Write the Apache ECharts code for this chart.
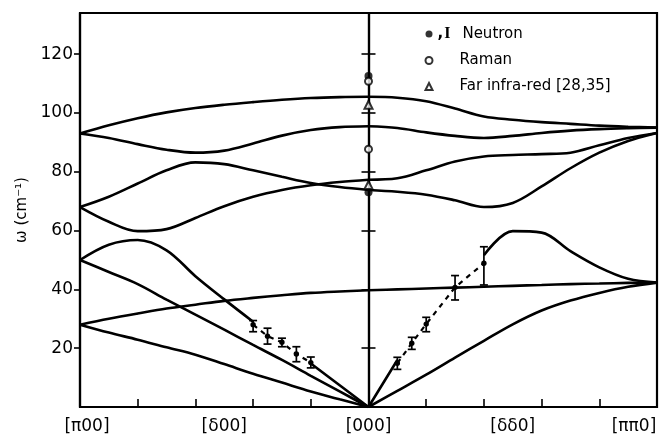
<!DOCTYPE html>
<html><head><meta charset="utf-8">
<script src="https://cdn.jsdelivr.net/npm/echarts@6/dist/echarts.min.js"></script>
<style>html,body{margin:0;padding:0;background:#fff}#c{width:669px;height:438px}</style>
</head><body><div id="c"></div>
<script>
// x coordinate: -5 = [π00], 0 = [000], 5 = [ππ0]
const xLeft  = [-5, -4.5, -4, -3.5, -3, -2.5, -2, -1.5, -1, -0.5, 0];
const xRight = [0, 0.5, 1, 1.5, 2, 2.5, 3, 3.5, 4, 4.5, 5];

const xLabelPos = [-5, -2.5, 0, 2.5, 5];
const xLabels = ['[π00]', '[δ00]', '[000]', '[δδ0]', '[ππ0]'];
const xMinorTicks = [-4, -3, -2, -1, 1, 2, 3, 4];
const yTicks = [20, 40, 60, 80, 100, 120];

// calculated dispersion curves, [π00] -> [000]
const aL = [93, 95.8, 98.2, 100.2, 101.7, 102.8, 103.7, 104.5, 105.1, 105.4, 105.5];
const bL = [93, 91.5, 89.4, 87.5, 86.5, 87.2, 89.6, 92.3, 94.2, 95.2, 95.5];
const cL = [68, 71.5, 76, 80.5, 83.2, 82.6, 80.5, 78.3, 76.2, 74.8, 73.8];
const dL = [68, 63, 59.8, 60.5, 64.3, 68.3, 71.5, 73.8, 75.4, 76.5, 77.3];
const eL = [50, 55.2, 56.8, 53.3, 44.5, 36.6, 29, 22, 14.8, 7.4, 0];
const hL = [50, 45.9, 41.8, 36.5, 31.4, 26.3, 21.1, 16, 10.6, 5.3, 0];
const fL = [28, 30, 31.8, 33.5, 34.8, 36.1, 37.1, 38, 38.8, 39.3, 39.7];
const gL = [28, 25.3, 22.9, 20.3, 17.8, 14.6, 11.3, 8.3, 5.3, 2.6, 0];
// [000] -> [ππ0]
const aR = [105.5, 105.2, 104, 101.5, 98.8, 97.7, 96.9, 96.3, 95.7, 95.3, 95];
const bR = [95.5, 94.9, 93.4, 92.2, 91.5, 92.2, 93.2, 94, 94.5, 94.8, 95];
const cR = [77.3, 77.8, 80.5, 83.5, 85.2, 85.7, 86, 86.5, 89, 91.5, 93.2];
const dR = [73.8, 73.2, 72.2, 70.3, 68, 69.4, 75, 81.2, 86.5, 90.5, 93.2];
const eR = [0, 16, 28.6, 40.8, 51.6, 59.8, 59.3, 53, 47.5, 43.6, 42.3];
const fR = [39.7, 40, 40.3, 40.6, 40.9, 41.2, 41.5, 41.8, 42, 42.2, 42.3];
const iR = [0, 5.5, 11, 16.8, 22.5, 28.1, 32.8, 36.2, 38.8, 40.9, 42.3];

// neutron points with error bars
const nLeftX  = [-2, -1.75, -1.5, -1.25, -1];
const nLeftW  = [28, 24.1, 22, 18, 15.1];
const nLeftLo = [25.6, 21.4, 20.5, 15.4, 13.3];
const nLeftHi = [29.4, 26.8, 23.4, 20.5, 17];
const nRightX  = [0.5, 0.75, 1, 1.5, 2];
const nRightW  = [14.9, 21.7, 28.2, 40.7, 48.9];
const nRightLo = [12.8, 19.6, 25.6, 36.4, 41.5];
const nRightHi = [16.9, 23.7, 30.5, 44.7, 54.5];

// zone-centre measurements
const neutronCenter = [112.6, 73];
const ramanCenter = [110.8, 87.7];
const farIRCenter = [102.8, 75.5];

const FONT = 'DejaVu Sans';
const INK = '#000';

function curve(xs, ys, gaps) {
  return {
    type: 'line', silent: true, showSymbol: false, smooth: 0.35, z: 2,
    connectNulls: false,
    lineStyle: { color: INK, width: 2.6 },
    data: xs.map((x, i) => [x, (gaps && gaps.indexOf(i) >= 0) ? null : ys[i]])
  };
}
function dashed(xs, ys) {
  return {
    type: 'line', silent: true, showSymbol: false, z: 2,
    lineStyle: { color: INK, width: 2.2, type: [5, 5] },
    data: xs.map((x, i) => [x, ys[i]])
  };
}
const errData = nLeftX.map((x, i) => [x, nLeftLo[i], nLeftHi[i], nLeftW[i]])
  .concat(nRightX.map((x, i) => [x, nRightLo[i], nRightHi[i], nRightW[i]]));

const chart = echarts.init(document.getElementById('c'), null, { renderer: 'canvas' });
chart.setOption({
  animation: false,
  backgroundColor: '#fff',
  textStyle: { fontFamily: FONT, color: INK },
  grid: { left: 80, right: 12, top: 13, bottom: 31, show: true, borderColor: INK, borderWidth: 2.2, backgroundColor: 'transparent' },
  legend: {
    orient: 'vertical', left: 424.5, top: 26, padding: 0, itemWidth: 7, itemHeight: 7, itemGap: 11,
    selectedMode: false,
    data: [
      { name: 'Neutron', icon: 'circle' },
      { name: 'Raman', icon: 'emptyCircle' },
      { name: 'Far infra-red [28,35]', icon: 'emptyTriangle' }
    ],
    formatter: function (name) {
      return name === 'Neutron' ? '{c|,}{i|I}{n|Neutron}' : '{p|' + name + '}';
    },
    textStyle: {
      fontFamily: FONT, fontSize: 15, lineHeight: 14, color: INK,
      rich: {
        c: { fontSize: 15, lineHeight: 14, fontWeight: 'bold' },
        i: { fontFamily: 'Liberation Serif', fontWeight: 'bold', fontSize: 16, lineHeight: 14, padding: [0, 0, 0, 1] },
        n: { fontSize: 15, lineHeight: 14, padding: [0, 0, 0, 12] },
        p: { fontSize: 15, lineHeight: 14, padding: [0, 0, 0, 22] }
      }
    }
  },
  xAxis: {
    type: 'value', min: -5, max: 5,
    axisLine: { onZero: false, lineStyle: { color: INK, width: 2.2 } },
    axisTick: { inside: true, length: 8, customValues: xMinorTicks, lineStyle: { color: INK, width: 1.6 } },
    splitLine: { show: false },
    axisLabel: {
      customValues: xLabelPos, margin: 11, fontSize: 17, color: INK, fontFamily: FONT,
      formatter: function (v) {
        const i = xLabelPos.indexOf(v);
        const t = xLabels[i];
        if (i === 0) return '{l|' + t + '}';
        if (i === xLabelPos.length - 1) return '{r|' + t + '}';
        return t;
      },
      rich: {
        l: { fontSize: 17, padding: [0, 0, 0, 14] },
        r: { fontSize: 17, padding: [0, 46, 0, 0] }
      }
    }
  },
  yAxis: [
    {
      type: 'value', min: 0, max: 134, position: 'left',
      name: 'ω (cm⁻¹)', nameLocation: 'middle', nameGap: 46,
      nameTextStyle: { fontSize: 15, color: INK, fontFamily: FONT },
      axisLine: { onZero: false, lineStyle: { color: INK, width: 2.2 } },
      axisTick: { customValues: yTicks, length: 6, lineStyle: { color: INK, width: 1.6 } },
      axisLabel: { customValues: yTicks, margin: 7, fontSize: 17, color: INK, fontFamily: FONT },
      splitLine: { show: false }
    },
    {
      type: 'value', min: 0, max: 134, position: 'left',
      axisLine: { onZero: true, onZeroAxisIndex: 0, lineStyle: { color: INK, width: 2.2 } },
      axisTick: { customValues: yTicks, length: 7, inside: false, lineStyle: { color: INK, width: 1.6 } },
      axisLabel: { show: false }, splitLine: { show: false }
    },
    {
      type: 'value', min: 0, max: 134, position: 'left',
      axisLine: { onZero: true, onZeroAxisIndex: 0, lineStyle: { color: INK, width: 2.2 } },
      axisTick: { customValues: yTicks, length: 7, inside: true, lineStyle: { color: INK, width: 1.6 } },
      axisLabel: { show: false }, splitLine: { show: false }
    }
  ],
  series: [
    curve(xLeft, aL), curve(xLeft, bL), curve(xLeft, cL), curve(xLeft, dL),
    curve(xLeft, eL, [7]), curve(xLeft, hL), curve(xLeft, fL), curve(xLeft, gL),
    curve(xRight, aR), curve(xRight, bR), curve(xRight, cR), curve(xRight, dR),
    curve(xRight, eR, [2, 3]), curve(xRight, fR), curve(xRight, iR),
    dashed(nLeftX, nLeftW), dashed(nRightX, nRightW),
    {
      type: 'custom', name: 'Neutron data', silent: true, z: 5,
      encode: { x: 0, y: [1, 2, 3] },
      data: errData,
      renderItem: function (params, api) {
        const x = api.value(0);
        const top = api.coord([x, api.value(2)]);
        const bot = api.coord([x, api.value(1)]);
        const mid = api.coord([x, api.value(3)]);
        const cap = 4;
        const st = { stroke: INK, lineWidth: 1.7 };
        return {
          type: 'group', children: [
            { type: 'line', shape: { x1: top[0], y1: top[1], x2: bot[0], y2: bot[1] }, style: st },
            { type: 'line', shape: { x1: top[0] - cap, y1: top[1], x2: top[0] + cap, y2: top[1] }, style: st },
            { type: 'line', shape: { x1: bot[0] - cap, y1: bot[1], x2: bot[0] + cap, y2: bot[1] }, style: st },
            { type: 'circle', shape: { cx: mid[0], cy: mid[1], r: 2.7 }, style: { fill: INK } }
          ]
        };
      }
    },
    {
      type: 'scatter', name: 'Neutron', symbol: 'circle', symbolSize: 8, z: 6,
      itemStyle: { color: INK },
      data: neutronCenter.map(w => [0, w])
    },
    {
      type: 'scatter', name: 'Raman', symbol: 'emptyCircle', symbolSize: 7, z: 6,
      itemStyle: { color: INK, borderColor: INK, borderWidth: 1.6 },
      data: ramanCenter.map(w => [0, w])
    },
    {
      type: 'scatter', name: 'Far infra-red [28,35]', symbol: 'emptyTriangle', symbolSize: 8, z: 6,
      itemStyle: { color: INK, borderColor: INK, borderWidth: 1.6 },
      data: farIRCenter.map(w => [0, w])
    }
  ]
});
</script>
</body></html>
